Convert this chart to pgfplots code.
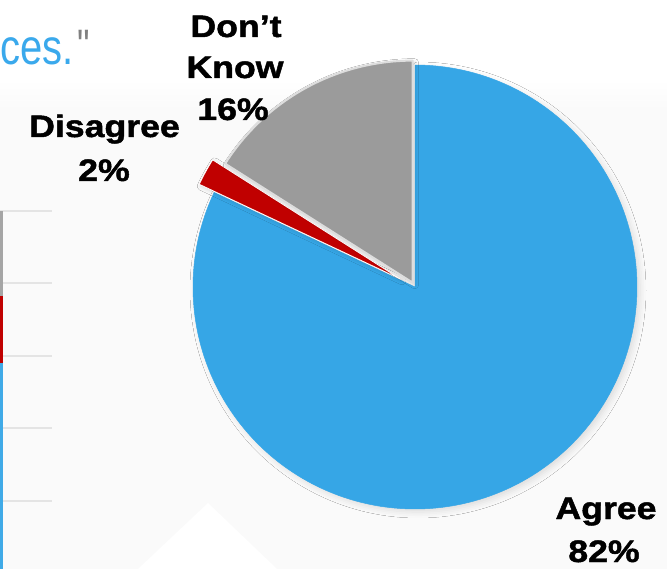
\documentclass[border=0pt]{standalone}
\usepackage{pgfplots}
\pgfplotsset{compat=1.18}
\usepackage{pgfplotstable}
\usepackage{fontspec}
\usetikzlibrary{shadows.blur}
\setmainfont{Liberation Sans}
\newfontfamily\lab{Liberation Sans}[UprightFont={* Bold}, FakeStretch=1.15, FakeBold=1.5]
\newfontfamily\cesfont{Liberation Sans}[FakeStretch=0.8, Ligatures=NoCommon]
\definecolor{cblue}{HTML}{36A6E6}
\definecolor{cred}{HTML}{C00000}
\definecolor{cgray}{HTML}{9B9B9B}
\definecolor{cbg}{HTML}{FAFAFA}
\definecolor{cgrid}{HTML}{E4E4E4}
\definecolor{cedge}{HTML}{DDDDDD}
\definecolor{ctext}{HTML}{3AA9EC}

\pgfplotstableread{
label value
Agree 82
Disagree 2
DontKnow 16
}\piedata

\begin{document}
\begin{tikzpicture}
\pgfplotstablegetelem{0}{value}\of\piedata \pgfmathsetmacro{\va}{\pgfplotsretval}
\pgfplotstablegetelem{1}{value}\of\piedata \pgfmathsetmacro{\vb}{\pgfplotsretval}
\pgfplotstablegetelem{2}{value}\of\piedata \pgfmathsetmacro{\vc}{\pgfplotsretval}
% angles (clockwise from 12 o'clock)
\pgfmathsetmacro{\aA}{90-3.6*\va}
\pgfmathsetmacro{\aB}{\aA-3.6*\vb}
\pgfmathsetmacro{\aC}{\aB-3.6*\vc}
\pgfmathsetmacro{\mB}{(\aA+\aB)/2}
\pgfmathsetmacro{\mC}{(\aB+\aC)/2}
% centres (pixel coordinates, y downward)
\pgfmathsetmacro{\cx}{415}\pgfmathsetmacro{\cy}{287}\pgfmathsetmacro{\R}{222}
\pgfmathsetmacro{\bx}{\cx+17*cos(\mB)}\pgfmathsetmacro{\by}{\cy-17*sin(\mB)}
\pgfmathsetmacro{\gx}{\cx+5*cos(\mC)}\pgfmathsetmacro{\gy}{\cy-5*sin(\mC)}
\begin{axis}[
  scale only axis, width=667pt, height=569pt,
  xmin=0, xmax=667, ymin=0, ymax=569, y dir=reverse,
  hide axis, clip=false,
]
% background
\fill[cbg] (axis cs:0,0) rectangle (axis cs:667,569);
\fill[white] (axis cs:0,0) rectangle (axis cs:667,80);
\shade[top color=white, bottom color=cbg] (axis cs:0,80) rectangle (axis cs:667,110);
\fill[white] (axis cs:138,569) -- (axis cs:208,503) -- (axis cs:277,569) -- cycle;
% partial chart at left
\pgfplotsinvokeforeach{211,283,356,428,501}{
  \draw[cgrid, line width=1.4pt] (axis cs:0,#1) -- (axis cs:52,#1);
}
\addplot[fill=cblue!95!white, draw=none] coordinates {(0,363) (3,363) (3,569) (0,569)} -- cycle;
\addplot[fill=cred, draw=none] coordinates {(0,296) (3,296) (3,363) (0,363)} -- cycle;
\addplot[fill=cgray!90!white, draw=none] coordinates {(0,211) (3,211) (3,296) (0,296)} -- cycle;
\node[anchor=base west, inner sep=0, text=ctext, font=\cesfont\fontsize{50}{56}\selectfont] at (axis cs:0,65) {ces.};
\node[anchor=base west, inner sep=0, text=gray, font=\cesfont\fontsize{44}{48}\selectfont] at (axis cs:77,61) {\char"22};
% pie
\addplot[fill=cblue, draw=cblue, line width=0.5pt, samples=240, domain=\aA:90, variable=\t,
  blur shadow={shadow xshift=3pt, shadow yshift=-3pt, shadow blur radius=6pt, shadow opacity=12}]
  ({\cx+\R*cos(\t)}, {\cy-\R*sin(\t)}) -- (axis cs:\cx,\cy) -- cycle;
\addplot[fill=cred, draw=white, line width=0.8pt, line join=round, samples=20, domain=\aB:\aA, variable=\t,
  blur shadow={shadow xshift=2pt, shadow yshift=-2pt, shadow blur radius=4pt, shadow opacity=15}]
  ({\bx+\R*cos(\t)}, {\by-\R*sin(\t)}) -- (axis cs:\bx,\by) -- cycle;
\addplot[fill=cgray, draw=cedge, line width=2pt, line join=round, samples=80, domain=\aC:\aB, variable=\t,
  blur shadow={shadow xshift=2pt, shadow yshift=-2pt, shadow blur radius=4pt, shadow opacity=15}]
  ({\gx+\R*cos(\t)}, {\gy-\R*sin(\t)}) -- (axis cs:\gx,\gy) -- cycle;
% labels
\begin{scope}[every node/.style={anchor=base, inner sep=0, font=\lab\fontsize{31}{37}\selectfont}]
\node at (axis cs:236,37) {Don’t};
\node at (axis cs:235,78) {Know};
\node at (axis cs:233,120) {16\%};
\node at (axis cs:104.5,137) {Disagree};
\node at (axis cs:104,181) {2\%};
\node at (axis cs:606,519) {Agree};
\node at (axis cs:604,562) {82\%};
\end{scope}
\end{axis}
\pgfresetboundingbox
\useasboundingbox (0,0) rectangle (667pt,569pt);
\end{tikzpicture}
\end{document}
